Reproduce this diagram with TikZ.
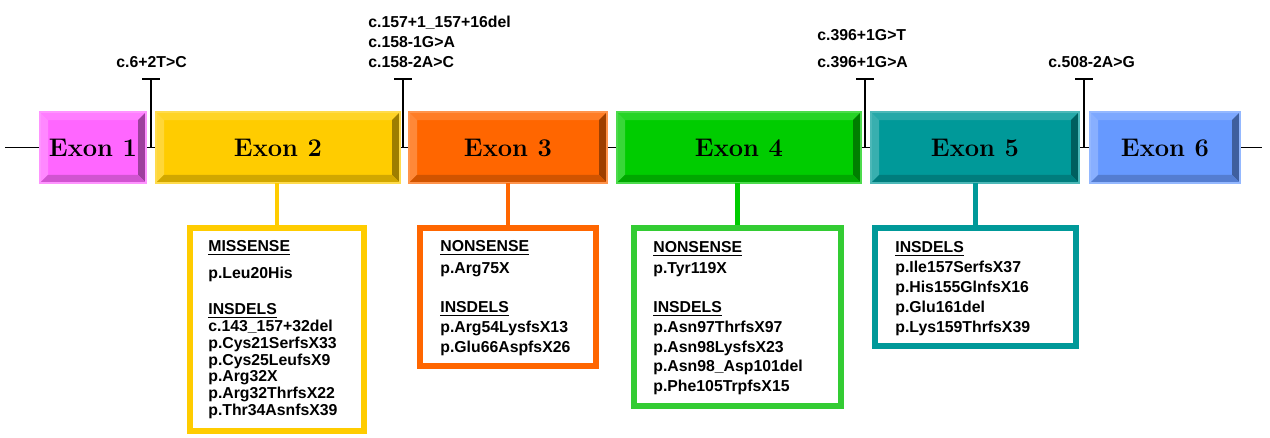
\documentclass[tikz,border=0pt]{standalone}
\usepackage{fontspec}
\usepackage{tikz}
\usetikzlibrary{calc}
\usetikzlibrary{arrows.meta}
\newfontfamily\arialfont{Liberation Sans}

\definecolor{exonpink}{HTML}{FF66FF}
\definecolor{exonyellow}{HTML}{FFCC00}
\definecolor{exonorange}{HTML}{FF6600}
\definecolor{exongreen}{HTML}{00CC00}
\definecolor{exonteal}{HTML}{009999}
\definecolor{exonblue}{HTML}{6699FF}
\definecolor{boxgreen}{HTML}{33CC33}

\tikzset{
  exon/.style={rectangle, inner sep=0pt, outer sep=0pt, minimum height=1.42cm,
    font=\fontsize{14.5}{16}\selectfont\bfseries},
  splice/.style={line width=1pt, -{Bar[width=0.36cm]}},
  splicelabel/.style={inner sep=0pt, align=left, anchor=south west,
    font=\arialfont\bfseries\fontsize{9}{11.3}\selectfont},
  mutbox/.style={rectangle, inner sep=0pt, line width=3.4pt, fill=white},
  mutlist/.style={inner sep=0pt, align=left, anchor=north west,
    font=\arialfont\bfseries\fontsize{9}{11.3}\selectfont},
  link/.style={line width=2.8pt}
}

% exon with bevelled edges: name, left, right, colour, label
\newcommand{\exonbox}[5]{%
  \node[exon, fill=#4, minimum width={(#3-#2)*0.02cm}] (#1) at ({(#2+#3)/2},147.5) {#5};
  \fill[#4!85!white] (#1.north west) -- (#1.north east) -- ++(-8,8) -- ($(#1.north west)+(8,8)$) -- cycle;
  \fill[#4!78!white] (#1.north west) -- ($(#1.north west)+(8,8)$) -- ($(#1.south west)+(8,-8)$) -- (#1.south west) -- cycle;
  \fill[#4!62!black] (#1.north east) -- (#1.south east) -- ++(-8,-8) -- ($(#1.north east)+(-8,8)$) -- cycle;
  \fill[#4!82!black] (#1.south west) -- (#1.south east) -- ++(-8,-8) -- ($(#1.south west)+(8,-8)$) -- cycle;
  \draw[#4!70!white, line width=0.6pt] (#1.north west) rectangle (#1.south east);
}

\begin{document}
\begin{tikzpicture}[x=0.02cm, y=-0.02cm]
  \useasboundingbox (0,0) rectangle (1270,438);

  % gene backbone
  \coordinate (lstart) at (5,147.5);
  \coordinate (lend) at (1262,147.5);
  \draw[line width=1pt] (lstart) -- (lend);

  % splice site markers
  \coordinate (s1) at (151,78);
  \coordinate (s2) at (403,78);
  \coordinate (s3) at (865,78);
  \coordinate (s4) at (1084,78);
  \draw[splice] (s1 |- lstart) -- (s1);
  \draw[splice] (s2 |- lstart) -- (s2);
  \draw[splice] (s3 |- lstart) -- (s3);
  \draw[splice] (s4 |- lstart) -- (s4);

  % splice site labels
  \node[splicelabel] (l1) at (116,67.6) {c.6+2T>C};
  \node[splicelabel] (l2) at (368,67.6) {c.157+1\_157+16del\\c.158-1G>A\\c.158-2A>C};
  \node[splicelabel] (l3) at (817,67.6) {c.396+1G>T\\[4pt]c.396+1G>A};
  \node[splicelabel] (l4) at (1048,67.6) {c.508-2A>G};

  % exons
  \exonbox{e1}{40}{146}{exonpink}{Exon 1}
  \exonbox{e2}{156}{400}{exonyellow}{Exon 2}
  \exonbox{e3}{409}{607}{exonorange}{Exon 3}
  \exonbox{e4}{617}{861}{exongreen}{Exon 4}
  \exonbox{e5}{871}{1079}{exonteal}{Exon 5}
  \exonbox{e6}{1090}{1240}{exonblue}{Exon 6}

  % mutation boxes
  \node[mutbox, draw=exonyellow, minimum width=3.48cm, minimum height=4.06cm] (m2) at (277,329.5) {};
  \node[mutbox, draw=exonorange, minimum width=3.52cm, minimum height=2.76cm] (m3) at (508,297) {};
  \node[mutbox, draw=boxgreen, minimum width=4.14cm, minimum height=3.56cm] (m4) at (737.5,317) {};
  \node[mutbox, draw=exonteal, minimum width=4.02cm, minimum height=2.36cm] (m5) at (975.5,287) {};

  % connections exon to box
  \draw[link, exonyellow] (e2.south -| m2.north) -- (m2.north);
  \draw[link, exonorange] (e3.south -| m3.north) -- (m3.north);
  \draw[link, exongreen] (e4.south -| m4.north) -- (m4.north);
  \draw[link, exonteal] (e5.south -| m5.north) -- (m5.north);

  % mutation lists
  \node[mutlist, font=\arialfont\bfseries\fontsize{9}{9.6}\selectfont] (t2) at (208,240.3)
    {\underline{MISSENSE}\\[5.7pt]p.Leu20His\\[10.8pt]\underline{INSDELS}\\c.143\_157+32del\\
     p.Cys21SerfsX33\\p.Cys25LeufsX9\\p.Arg32X\\p.Arg32ThrfsX22\\p.Thr34AsnfsX39};
  \node[mutlist] (t3) at (440,240.3)
    {\underline{NONSENSE}\\[1.2pt]p.Arg75X\\[10.8pt]\underline{INSDELS}\\p.Arg54LysfsX13\\p.Glu66AspfsX26};
  \node[mutlist] (t4) at (653,241.3)
    {\underline{NONSENSE}\\[0.6pt]p.Tyr119X\\[10.8pt]\underline{INSDELS}\\p.Asn97ThrfsX97\\
     p.Asn98LysfsX23\\p.Asn98\_Asp101del\\p.Phe105TrpfsX15};
  \node[mutlist] (t5) at (895,241.3)
    {\underline{INSDELS}\\p.Ile157SerfsX37\\p.His155GlnfsX16\\p.Glu161del\\p.Lys159ThrfsX39};
\end{tikzpicture}
\end{document}
